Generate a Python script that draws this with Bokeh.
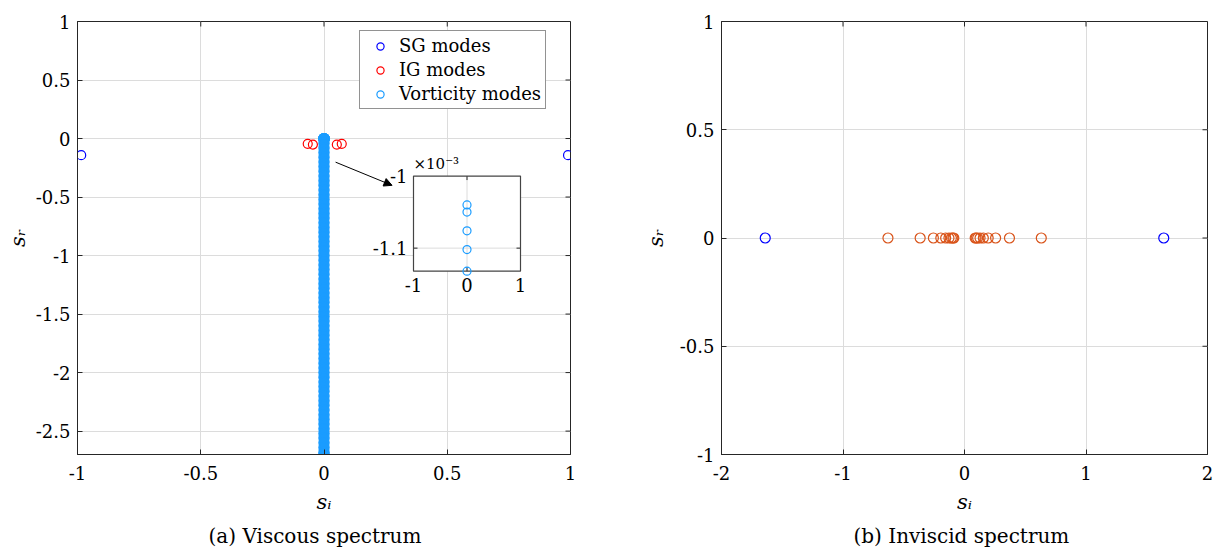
from bokeh.plotting import figure
from bokeh.models import (Range1d, FixedTicker, Legend, LegendItem,
                          Arrow, NormalHead, Title)
from bokeh.layouts import row
from bokeh.embed import file_html
from bokeh.resources import INLINE
from bokeh.core.properties import value
import math

# ---------------- data ----------------
# (a) viscous spectrum
sg_visc_x = [-0.985, 0.99]
sg_visc_y = [-0.142, -0.142]
ig_visc_x = [-0.066, -0.045, 0.052, 0.072]
ig_visc_y = [-0.045, -0.052, -0.052, -0.045]
vort_visc_y = [-0.00104, -0.00105, -0.001076, -0.001102, -0.001132,
               -0.04, -0.08, -0.12, -0.16, -0.20, -0.24, -0.28, -0.32, -0.36, -0.40,
               -0.44, -0.48, -0.52, -0.56, -0.60, -0.64, -0.68, -0.72, -0.76, -0.80,
               -0.84, -0.88, -0.92, -0.96, -1.00, -1.04, -1.08, -1.12, -1.16, -1.20,
               -1.24, -1.28, -1.32, -1.36, -1.40, -1.44, -1.48, -1.52, -1.56, -1.60,
               -1.64, -1.68, -1.72, -1.76, -1.80, -1.84, -1.88, -1.92, -1.96, -2.00,
               -2.04, -2.08, -2.12, -2.16, -2.20, -2.24, -2.28, -2.32, -2.36, -2.40,
               -2.44, -2.48, -2.52, -2.56, -2.60, -2.64, -2.68, -2.70]
vort_visc_x = [0.0] * len(vort_visc_y)

visc_xticks = [-1, -0.5, 0, 0.5, 1]
visc_yticks = [1, 0.5, 0, -0.5, -1, -1.5, -2, -2.5]
inset_xticks = [-1, 0, 1]
inset_yticks = [-1.0, -1.1]          # units of 1e-3
inset_xlim = (-1.0, 1.0)
inset_ylim = (-1.132, -1.0)

# (b) inviscid spectrum
sg_inv_x = [-1.64, 1.64]
sg_inv_y = [0.0, 0.0]
ig_inv_x = [-0.63, -0.365, -0.256, -0.195, -0.155, -0.128, -0.108, -0.096, -0.088,
            0.088, 0.096, 0.108, 0.128, 0.155, 0.195, 0.256, 0.37, 0.632]
ig_inv_y = [0.0] * len(ig_inv_x)
inv_xticks = [-2, -1, 0, 1, 2]
inv_yticks = [-1, -0.5, 0, 0.5, 1]

captions = ["(a) Viscous spectrum", "(b) Inviscid spectrum"]

# ---------------- style ----------------
FONT = "DejaVu Serif"
AX = "#262626"
GRID = "#dcdcdc"
VC = "#1a9cff"
FS = "18px"


def lab(v):
    return ("%g" % v)


def style(p, xt, yt, xr, yr, caption, cap_offset, ylab_standoff):
    p.xaxis.ticker = FixedTicker(ticks=xt)
    p.yaxis.ticker = FixedTicker(ticks=yt)
    p.xaxis.major_label_overrides = {v: lab(v) for v in xt}
    p.yaxis.major_label_overrides = {v: lab(v) for v in yt}
    for ax in (p.xaxis, p.yaxis):
        ax.major_tick_in = 5
        ax.major_tick_out = 0
        ax.minor_tick_line_color = None
        ax.axis_line_color = AX
        ax.major_tick_line_color = AX
        ax.major_label_text_font = FONT
        ax.major_label_text_font_size = FS
        ax.major_label_text_color = "black"
        ax.axis_label_text_font = FONT
        ax.axis_label_text_font_size = "21px"
        ax.axis_label_text_font_style = "italic"
        ax.axis_label_text_color = "black"
    p.xaxis.major_label_standoff = 11
    p.yaxis.major_label_standoff = 7
    p.xaxis.axis_label = "sᵢ"
    p.yaxis.axis_label = "sᵣ"
    p.xaxis.axis_label_standoff = 7
    p.yaxis.axis_label_standoff = ylab_standoff
    p.grid.grid_line_color = GRID
    p.grid.grid_line_width = 1
    p.outline_line_color = AX
    p.outline_line_width = 1
    p.outline_line_alpha = 1
    # tick marks on the opposite sides (MATLAB box)
    p.ray(x=[xr[1]] * len(yt), y=yt, length=5, angle=math.pi, length_units="screen",
          line_color=AX, line_width=1)
    p.ray(x=xt, y=[yr[1]] * len(xt), length=5, angle=-math.pi / 2, length_units="screen",
          line_color=AX, line_width=1)
    p.add_layout(Title(text=caption, align="left", offset=cap_offset, standoff=10,
                       vertical_align="bottom",
                       text_font=FONT, text_font_size="20px", text_font_style="normal",
                       text_color="black"), "below")


H = 552
# ---------------- (a) viscous ----------------
W1 = 640
FL, FW, FT, FH = 77, 493, 18, 437            # frame in figure px
xr1, yr1 = (-1, 1), (-2.7, 1)
p1 = figure(width=W1, height=H, x_range=Range1d(*xr1), y_range=Range1d(*yr1),
            output_backend="svg", toolbar_location=None,
            min_border_left=FL, min_border_right=W1 - FL - FW,
            min_border_top=FT, min_border_bottom=H - FT - FH)
style(p1, visc_xticks, visc_yticks, xr1, yr1, captions[0], 131, 3)

r_sg = p1.scatter(sg_visc_x, sg_visc_y, marker="circle", size=9, fill_color=None,
                  line_color="#0000ff", line_width=1.2)
r_ig = p1.scatter(ig_visc_x, ig_visc_y, marker="circle", size=9, fill_color=None,
                  line_color="#ff0000", line_width=1.2)
p1.scatter(vort_visc_x, vort_visc_y, marker="circle", size=10, fill_color=VC,
           line_color=VC, line_width=1.5)

# inset (zoom on vorticity modes near -1e-3), placed by extra ranges
IL, IR, IT, IB = 413, 520, 174, 270          # inset box in figure px
ppx = (IR - IL) / (inset_xlim[1] - inset_xlim[0])
ppy = (IB - IT) / (inset_ylim[1] - inset_ylim[0])
p1.extra_x_ranges = {"ix": Range1d(inset_xlim[0] - (IL - FL) / ppx,
                                   inset_xlim[1] + (FL + FW - IR) / ppx)}
p1.extra_y_ranges = {"iy": Range1d(inset_ylim[0] - (FT + FH - IB) / ppy,
                                   inset_ylim[1] + (IT - FT) / ppy)}
kw = dict(x_range_name="ix", y_range_name="iy")
p1.quad(left=[inset_xlim[0]], right=[inset_xlim[1]], bottom=[inset_ylim[0]],
        top=[inset_ylim[1]], fill_color="white", line_color=None, **kw)
p1.segment(x0=[0, inset_xlim[0]], y0=[inset_ylim[0], -1.1], x1=[0, inset_xlim[1]],
           y1=[inset_ylim[1], -1.1], line_color=GRID, line_width=1, **kw)
p1.ray(x=[inset_xlim[0], inset_xlim[1], 0, 0], y=[-1.1, -1.1, inset_ylim[0], inset_ylim[1]],
       length=4, angle=[0, math.pi, math.pi / 2, -math.pi / 2], length_units="screen",
       line_color=AX, line_width=1, **kw)
p1.quad(left=[inset_xlim[0]], right=[inset_xlim[1]], bottom=[inset_ylim[0]],
        top=[inset_ylim[1]], fill_color=None, line_color="#444444", line_width=1.2, **kw)
ins_y = [v * 1e3 for v in vort_visc_y if inset_ylim[0] - 0.001 <= v * 1e3 <= inset_ylim[1]]
r_vort_ins = p1.scatter([0.0] * len(ins_y), ins_y, marker="circle", size=8, fill_color=None,
                        line_color=VC, line_width=1.2, **kw)
p1.text(x=[inset_xlim[0]] * len(inset_yticks), y=inset_yticks,
        text=[lab(v) for v in inset_yticks], text_align="right", text_baseline="middle",
        x_offset=-6, text_font=value(FONT), text_font_size=FS, text_color="black", **kw)
p1.text(x=inset_xticks, y=[inset_ylim[0]] * len(inset_xticks),
        text=[lab(v) for v in inset_xticks], text_align="center", text_baseline="top",
        y_offset=7, text_font=value(FONT), text_font_size=FS, text_color="black", **kw)
p1.text(x=[inset_xlim[0]], y=[inset_ylim[1]], text=["×10⁻³"], text_align="left",
        text_baseline="bottom", y_offset=-3, text_font=value(FONT), text_font_size="15px",
        text_color="black", **kw)

p1.add_layout(Arrow(x_start=0.047, y_start=-0.202, x_end=0.276, y_end=-0.40,
                    line_color="black", line_width=1,
                    end=NormalHead(size=8, fill_color="black", line_color="black")))

legend = Legend(items=[LegendItem(label="SG modes", renderers=[r_sg]),
                       LegendItem(label="IG modes", renderers=[r_ig]),
                       LegendItem(label="Vorticity modes", renderers=[r_vort_ins])],
                location=(282, 345), padding=4, margin=0, spacing=3,
                glyph_width=32, glyph_height=18, label_standoff=3, label_height=21,
                label_text_font=FONT, label_text_font_size=FS, label_text_color="black",
                border_line_color=AX, border_line_width=1, background_fill_alpha=1)
p1.add_layout(legend)

# ---------------- (b) inviscid ----------------
W2 = 576
GL, GW, GT, GH = 73, 494, 21, 435
xr2, yr2 = (-2, 2), (-1, 1)
p2 = figure(width=W2, height=H, x_range=Range1d(*xr2), y_range=Range1d(*yr2),
            output_backend="svg", toolbar_location=None,
            min_border_left=GL, min_border_right=W2 - GL - GW,
            min_border_top=GT, min_border_bottom=H - GT - GH)
style(p2, inv_xticks, inv_yticks, xr2, yr2, captions[1], 132, 9)
p2.scatter(ig_inv_x, ig_inv_y, marker="circle", size=10, fill_color=None,
           line_color="#d95319", line_width=1.2)
p2.scatter(sg_inv_x, sg_inv_y, marker="circle", size=10, fill_color=None,
           line_color="#0000ff", line_width=1.2)

layout = row(p1, p2)
open("out.html", "w").write(file_html(layout, INLINE))
